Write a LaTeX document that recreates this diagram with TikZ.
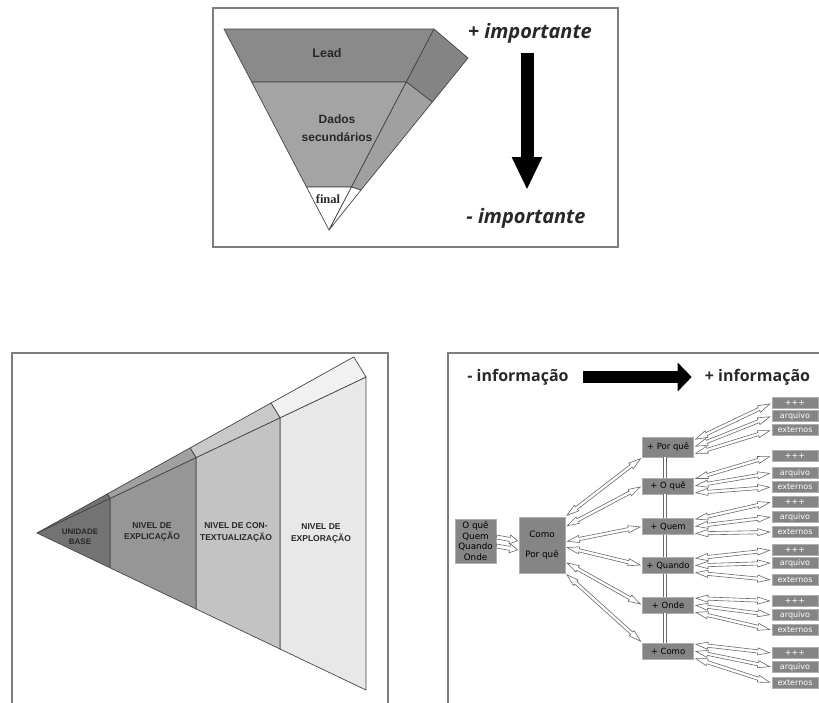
\documentclass[tikz,border=0pt]{standalone}
\usepackage{fontspec}
\setmainfont{DejaVu Sans}
\newfontfamily\arialfont{Liberation Sans}
\newfontfamily\timesfont{Liberation Serif}
\newfontfamily\headfont{Open Sans}
\usetikzlibrary{arrows.meta,calc}
\definecolor{framegray}{RGB}{125,125,125}
\definecolor{edgegray}{RGB}{70,70,70}
\definecolor{leadgray}{RGB}{138,138,138}
\definecolor{dadosgray}{RGB}{164,164,164}
\definecolor{sidetop}{RGB}{132,132,132}
\definecolor{sidemid}{RGB}{160,160,160}
\definecolor{baseshade}{RGB}{115,115,115}
\definecolor{explicshade}{RGB}{150,150,150}
\definecolor{contextshade}{RGB}{195,195,195}
\definecolor{explorshade}{RGB}{232,232,232}
\definecolor{boxgray}{RGB}{133,133,133}
\definecolor{boxedge}{RGB}{175,175,175}
\definecolor{arrowgray}{RGB}{105,105,105}
\definecolor{textgray}{RGB}{40,40,40}

\tikzset{
  panel/.style={draw=framegray, line width=1.2pt},
  face/.style={draw=edgegray, line width=0.7pt, line join=round},
  infobox/.style={draw=boxedge, fill=boxgray, line width=0.8pt, inner sep=1pt, align=center, font=\fontsize{8.5}{10}\selectfont},
  levelbox/.style={infobox, minimum width=51pt, minimum height=16pt},
  morebox/.style={infobox, minimum width=46pt, minimum height=10.5pt, inner sep=0pt, text=white, font=\fontsize{8}{8}\selectfont},
  conelabel/.style={font=\arialfont\bfseries\fontsize{8.5}{11.5}\selectfont, text=textgray, align=center},
  twohead/.style={draw=arrowgray, fill=white, line width=0.6pt, line join=miter,
    to path={($(\tikztostart)!2pt!(\tikztotarget)$)
      -- ($(\tikztostart)!14pt!(\tikztotarget)!3.6pt!90:(\tikztotarget)$)
      -- ($(\tikztostart)!14pt!(\tikztotarget)!1.6pt!90:(\tikztotarget)$)
      -- ($(\tikztotarget)!14pt!(\tikztostart)!1.6pt!-90:(\tikztostart)$)
      -- ($(\tikztotarget)!14pt!(\tikztostart)!3.6pt!-90:(\tikztostart)$)
      -- ($(\tikztotarget)!2pt!(\tikztostart)$)
      -- ($(\tikztotarget)!14pt!(\tikztostart)!3.6pt!90:(\tikztostart)$)
      -- ($(\tikztotarget)!14pt!(\tikztostart)!1.6pt!90:(\tikztostart)$)
      -- ($(\tikztostart)!14pt!(\tikztotarget)!1.6pt!-90:(\tikztotarget)$)
      -- ($(\tikztostart)!14pt!(\tikztotarget)!3.6pt!-90:(\tikztotarget)$)
      -- cycle}},
  onehead/.style={draw=arrowgray, fill=white, line width=0.6pt, line join=miter,
    to path={($(\tikztostart)!2pt!90:(\tikztotarget)$)
      -- ($(\tikztotarget)!9pt!(\tikztostart)!2pt!-90:(\tikztostart)$)
      -- ($(\tikztotarget)!9pt!(\tikztostart)!4.5pt!-90:(\tikztostart)$)
      -- ($(\tikztotarget)!1pt!(\tikztostart)$)
      -- ($(\tikztotarget)!9pt!(\tikztostart)!4.5pt!90:(\tikztostart)$)
      -- ($(\tikztotarget)!9pt!(\tikztostart)!2pt!90:(\tikztostart)$)
      -- ($(\tikztostart)!2pt!-90:(\tikztotarget)$)
      -- cycle}},
  vline/.style={draw=arrowgray, double=white, double distance=2.4pt, line width=0.7pt}
}

\begin{document}
\begin{tikzpicture}[x=1pt, y=-1pt]
  \useasboundingbox (0,0) rectangle (819,702);

  % top panel: inverted pyramid
  \draw[panel] (213,8) rectangle (618,247);
  \coordinate (tl) at (224,29);
  \coordinate (tr) at (434,29);
  \coordinate (tip) at (329,230);
  \coordinate (so) at (468,58);
  \coordinate (ml) at (251.7,82);
  \coordinate (mr) at (406.3,82);
  \coordinate (bl) at (306.5,187);
  \coordinate (br) at (351.5,187);
  \coordinate (sm) at (432.4,102);
  \coordinate (sb) at (361,190);
  \filldraw[face, fill=leadgray] (tl) -- (tr) -- (mr) -- (ml) -- cycle;
  \filldraw[face, fill=dadosgray] (ml) -- (mr) -- (br) -- (bl) -- cycle;
  \filldraw[face, fill=white] (bl) -- (br) -- (tip) -- cycle;
  \filldraw[face, fill=sidetop] (tr) -- (so) -- (sm) -- (mr) -- cycle;
  \filldraw[face, fill=sidemid] (mr) -- (sm) -- (sb) -- (br) -- cycle;
  \filldraw[face, fill=white] (br) -- (sb) -- (tip) -- cycle;

  \node[font=\arialfont\bfseries\fontsize{12.5}{14}\selectfont, text=textgray] (lead) at (327,53) {Lead};
  \node[font=\arialfont\bfseries\fontsize{12}{18}\selectfont, text=textgray, align=center] (dados) at (337,128) {Dados\\secundários};
  \node[font=\timesfont\bfseries\fontsize{12.5}{14}\selectfont, text=textgray, inner sep=0pt] (final) at (328,199) {final};

  \node[font=\headfont\bfseries\itshape\fontsize{20}{24}\selectfont, text=textgray, inner sep=0pt] (maisimp) at (530,33) {+ importante};
  \node[font=\headfont\bfseries\itshape\fontsize{20}{24}\selectfont, text=textgray, inner sep=0pt] (menosimp) at (526,218) {- importante};
  \coordinate (imptop) at (527,53);
  \coordinate (impbot) at (527,190);
  \draw[-{Triangle[length=33pt,width=28pt]}, line width=13pt] (imptop) -- (impbot);

  % bottom left panel: cone of levels
  \draw[panel] (12,704) -- (12,353) -- (388,353) -- (388,704);
  \coordinate (apex) at (37,533);
  \coordinate (u1) at (110,498.4);  \coordinate (l1) at (110,567.8);  \coordinate (s1) at (107.3,493.9);
  \coordinate (u2) at (196,457.6);  \coordinate (l2) at (196,608.9);  \coordinate (s2) at (190.1,447.9);
  \coordinate (u3) at (280,417.8);  \coordinate (l3) at (280,649);    \coordinate (s3) at (271,403);
  \coordinate (u4) at (366,377);    \coordinate (l4) at (366,690);    \coordinate (s4) at (353.8,356.9);
  \filldraw[face, fill=explorshade] (u3) -- (u4) -- (l4) -- (l3) -- cycle;
  \filldraw[face, fill=explorshade!60!white] (s3) -- (s4) -- (u4) -- (u3) -- cycle;
  \filldraw[face, fill=contextshade] (u2) -- (u3) -- (l3) -- (l2) -- cycle;
  \filldraw[face, fill=contextshade!90!white] (s2) -- (s3) -- (u3) -- (u2) -- cycle;
  \filldraw[face, fill=explicshade] (u1) -- (u2) -- (l2) -- (l1) -- cycle;
  \filldraw[face, fill=explicshade!90!white] (s1) -- (s2) -- (u2) -- (u1) -- cycle;
  \filldraw[face, fill=baseshade] (apex) -- (u1) -- (l1) -- cycle;
  \filldraw[face, fill=baseshade] (apex) -- (s1) -- (u1) -- cycle;

  \node[conelabel, font=\arialfont\bfseries\fontsize{8}{10}\selectfont] (unidade) at (80,537) {UNIDADE\\BASE};
  \node[conelabel] (explic) at (152,532) {NIVEL DE\\EXPLICAÇÃO};
  \node[conelabel] (context) at (236,532.5) {NIVEL DE CON-\\TEXTUALIZAÇÃO};
  \node[conelabel] (explor) at (321,533.5) {NIVEL DE\\EXPLORAÇÃO};

  % bottom right panel: information tree
  \draw[panel] (448,704) -- (448,353) -- (821,353);
  \node[font=\headfont\bfseries\fontsize{16}{19}\selectfont, text=textgray, inner sep=0pt] (infoless) at (518,377) {- informação};
  \node[font=\headfont\bfseries\fontsize{16}{19}\selectfont, text=textgray, inner sep=0pt] (infomore) at (757.5,377) {+ informação};
  \draw[-{Triangle[length=14pt,width=28pt]}, line width=12pt, shorten <=14pt, shorten >=13pt] (infoless.east) -- (infomore.west);

  \node[infobox, font=\fontsize{8.8}{10.5}\selectfont, minimum width=41pt, minimum height=44pt] (basic) at (475.5,541) {O quê\\Quem\\Quando\\Onde};
  \node[infobox, font=\fontsize{8.8}{10.5}\selectfont, minimum width=46pt, minimum height=56pt] (comopq) at (542,545) {Como\\[10pt]Por quê};

  \node[levelbox, minimum height=20pt] (pq) at (668,447) {+ Por quê};
  \node[levelbox] (oq) at (668,486) {+ O quê};
  \node[levelbox] (qm) at (668,526.5) {+ Quem};
  \node[levelbox] (qd) at (668,565.5) {+ Quando};
  \node[levelbox] (od) at (668,605) {+ Onde};
  \node[levelbox] (cm) at (668,651) {+ Como};

  \draw[vline] ([xshift=-3pt]pq.south) -- ([xshift=-3pt]oq.north);
  \draw[vline] ([xshift=-3pt]oq.south) -- ([xshift=-3pt]qm.north);
  \draw[vline] ([xshift=-3pt]qm.south) -- ([xshift=-3pt]qd.north);
  \draw[vline] ([xshift=-3pt]qd.south) -- ([xshift=-3pt]od.north);
  \draw[vline] ([xshift=-3pt]od.south) -- ([xshift=-3pt]cm.north);

  \node[morebox] (pq1) at (795,403) {+++};
  \node[morebox] (pq2) at (795,416) {arquivo};
  \node[morebox] (pq3) at (795,430) {externos};
  \node[morebox] (oq1) at (795,456) {+++};
  \node[morebox] (oq2) at (795,473) {arquivo};
  \node[morebox] (oq3) at (795,487) {externos};
  \node[morebox] (qm1) at (795,502) {+++};
  \node[morebox] (qm2) at (795,517) {arquivo};
  \node[morebox] (qm3) at (795,532) {externos};
  \node[morebox] (qd1) at (795,550) {+++};
  \node[morebox] (qd2) at (795,563) {arquivo};
  \node[morebox] (qd3) at (795,580) {externos};
  \node[morebox] (od1) at (795,601) {+++};
  \node[morebox] (od2) at (795,615) {arquivo};
  \node[morebox] (od3) at (795,630) {externos};
  \node[morebox] (cm1) at (795,653) {+++};
  \node[morebox] (cm2) at (795,667) {arquivo};
  \node[morebox] (cm3) at (795,683) {externos};

  \draw[onehead] ([yshift=4pt]basic.east) to ([yshift=4pt]comopq.west);
  \draw[onehead] ([yshift=-5pt]basic.east) to ([yshift=-5pt]comopq.west);

  \draw[twohead] (comopq.north east) to (pq.south west);
  \draw[twohead] (comopq.38) to (oq.west);
  \draw[twohead] (comopq.8) to (qm.west);
  \draw[twohead] (comopq.-5) to (qd.west);
  \draw[twohead] (comopq.-36) to (od.west);
  \draw[twohead] (comopq.south east) to (cm.north west);

  \draw[twohead] (pq.15) to (pq1.west);
  \draw[twohead] (pq.east) to (pq2.west);
  \draw[twohead] (pq.-15) to (pq3.west);
  \draw[twohead] (oq.15) to (oq1.west);
  \draw[twohead] (oq.east) to (oq2.west);
  \draw[twohead] (oq.-15) to (oq3.west);
  \draw[twohead] (qm.15) to (qm1.west);
  \draw[twohead] (qm.east) to (qm2.west);
  \draw[twohead] (qm.-15) to (qm3.west);
  \draw[twohead] (qd.15) to (qd1.west);
  \draw[twohead] (qd.east) to (qd2.west);
  \draw[twohead] (qd.-15) to (qd3.west);
  \draw[twohead] (od.15) to (od1.west);
  \draw[twohead] (od.east) to (od2.west);
  \draw[twohead] (od.-15) to (od3.west);
  \draw[twohead] (cm.15) to (cm1.west);
  \draw[twohead] (cm.east) to (cm2.west);
  \draw[twohead] (cm.-15) to (cm3.west);
\end{tikzpicture}
\end{document}
